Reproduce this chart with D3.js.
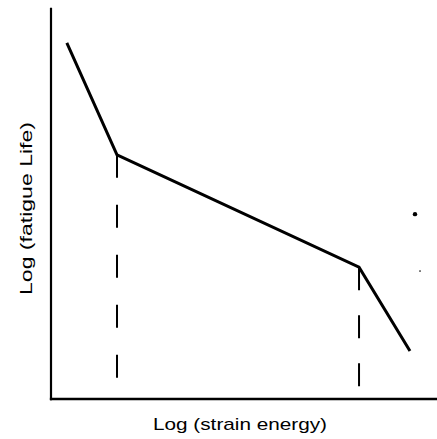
<!DOCTYPE html>
<html>
<head>
<meta charset="utf-8">
<script src="https://cdn.jsdelivr.net/npm/d3@7"></script>
<style>
  html, body { margin: 0; padding: 0; background: #fff; }
  svg { display: block; }
  text { font-family: "Liberation Sans", Arial, Helvetica, sans-serif; fill: #000; }
</style>
</head>
<body>
<svg id="chart" width="437" height="439"></svg>
<script>
// Three-segment fatigue curve in log–log units
const logStrainEnergy = [0.41, 1.71, 7.98, 9.30];
const logFatigueLife  = [9.13, 6.26, 3.38, 1.23];

// Knee points get a dashed drop line down toward the energy axis
const kneeEnergy = [1.71, 7.98];
const kneeLife   = [6.26, 3.38];
const dropEnd    = [0.54, 0.23];

// Stray specks on the page
const speckEnergy = [9.43, 9.56];
const speckLife   = [4.74, 3.28];
const speckSize   = [2.2, 0.8];

const xLabel = "Log (strain energy)";
const yLabel = "Log (fatigue Life)";

const svg = d3.select("#chart");
const x = d3.scaleLinear().domain([0, 10]).range([51, 437]);
const y = d3.scaleLinear().domain([0, 10]).range([399, 9]);

// Axes: plain lines, no ticks
svg.append("g")
  .attr("transform", `translate(0,${y(0)})`)
  .call(d3.axisBottom(x).ticks(0).tickSizeOuter(0))
  .call(g => g.select(".domain").attr("stroke", "#000").attr("stroke-width", 2.4)
    .attr("d", `M${x(-0.03)},0H${x(10)}`));

svg.append("g")
  .attr("transform", `translate(${x(0)},0)`)
  .call(d3.axisLeft(y).ticks(0).tickSizeOuter(0))
  .call(g => g.select(".domain").attr("stroke", "#000").attr("stroke-width", 2.2)
    .attr("d", `M0,${y(-0.03)}V${y(10.03)}`));

// Dashed drop lines at the knees
svg.append("g").selectAll("line")
  .data(kneeEnergy)
  .join("line")
  .attr("x1", d => x(d)).attr("x2", d => x(d))
  .attr("y1", (d, i) => y(kneeLife[i]))
  .attr("y2", (d, i) => y(dropEnd[i]))
  .attr("stroke", "#000")
  .attr("stroke-width", 2)
  .attr("stroke-dasharray", (d, i) => i === 0 ? "23,27" : "23,25");

// Fatigue curve
const pts = logStrainEnergy.map((e, i) => [e, logFatigueLife[i]]);
svg.append("path")
  .datum(pts)
  .attr("fill", "none")
  .attr("stroke", "#000")
  .attr("stroke-width", 3)
  .attr("stroke-linejoin", "miter")
  .attr("stroke-linecap", "butt")
  .attr("d", d3.line().x(d => x(d[0])).y(d => y(d[1])));

// Specks
svg.append("g").selectAll("circle")
  .data(speckEnergy)
  .join("circle")
  .attr("cx", d => x(d))
  .attr("cy", (d, i) => y(speckLife[i]))
  .attr("r", (d, i) => speckSize[i])
  .attr("fill", "#000");

// Axis titles
svg.append("text")
  .attr("x", 240).attr("y", 430)
  .attr("text-anchor", "middle")
  .attr("font-size", 17)
  .attr("textLength", 174)
  .attr("lengthAdjust", "spacingAndGlyphs")
  .text(xLabel);

svg.append("text")
  .attr("transform", "translate(32,208.5) rotate(-90)")
  .attr("text-anchor", "middle")
  .attr("font-size", 17)
  .attr("textLength", 173)
  .attr("lengthAdjust", "spacingAndGlyphs")
  .text(yLabel);
</script>
</body>
</html>
